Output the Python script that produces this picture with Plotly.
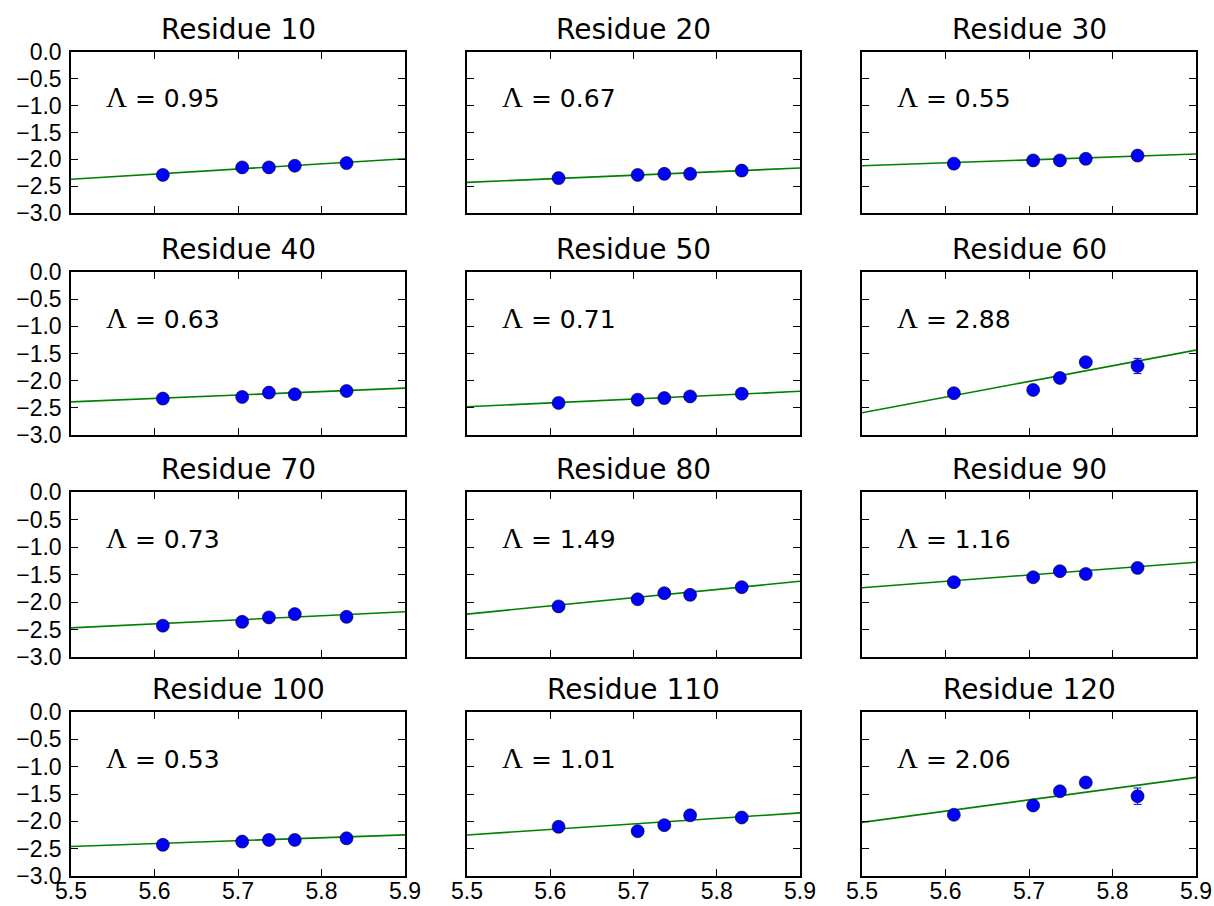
import plotly.graph_objects as go

# ---------------- data ----------------
residues = [10, 20, 30, 40, 50, 60, 70, 80, 90, 100, 110, 120]
x_vals = [5.61, 5.705, 5.737, 5.768, 5.83]
lambdas = [0.95, 0.67, 0.55, 0.63, 0.71, 2.88, 0.73, 1.49, 1.16, 0.53, 1.01, 2.06]
fit_at_x0 = [-2.37, -2.43, -2.12, -2.39, -2.48, -2.59, -2.47, -2.22, -1.74, -2.46, -2.25, -2.02]

y_res10 = [-2.29, -2.15, -2.15, -2.12, -2.07]
y_res20 = [-2.35, -2.29, -2.27, -2.27, -2.21]
y_res30 = [-2.08, -2.02, -2.02, -1.99, -1.93]
y_res40 = [-2.33, -2.30, -2.22, -2.25, -2.19]
y_res50 = [-2.41, -2.35, -2.32, -2.29, -2.24]
y_res60 = [-2.23, -2.17, -1.95, -1.66, -1.73]
y_res70 = [-2.43, -2.36, -2.28, -2.22, -2.27]
y_res80 = [-2.08, -1.95, -1.84, -1.87, -1.73]
y_res90 = [-1.64, -1.55, -1.44, -1.49, -1.38]
y_res100 = [-2.43, -2.37, -2.34, -2.34, -2.31]
y_res110 = [-2.10, -2.18, -2.07, -1.89, -1.93]
y_res120 = [-1.88, -1.71, -1.45, -1.29, -1.54]

err_small = [0.02, 0.02, 0.02, 0.02, 0.02]
err_res60 = [0.03, 0.03, 0.03, 0.03, 0.14]
err_res120 = [0.06, 0.03, 0.03, 0.03, 0.15]

x_range = [5.5, 5.9]
y_range = [-3.0, 0.0]
x_ticks = [5.5, 5.6, 5.7, 5.8, 5.9]
y_ticks = [0.0, -0.5, -1.0, -1.5, -2.0, -2.5, -3.0]

y_all = [y_res10, y_res20, y_res30, y_res40, y_res50, y_res60,
         y_res70, y_res80, y_res90, y_res100, y_res110, y_res120]
err_all = [err_small] * 5 + [err_res60] + [err_small] * 5 + [err_res120]

# ---------------- layout geometry ----------------
W, H = 1214, 906
col_px = [(71, 405), (467, 800), (862, 1196)]
row_px = [(52, 213), (272, 435), (492, 657), (712, 876)]

fig = go.Figure()
annotations = []
tick_font = dict(family="Liberation Sans, Arial, sans-serif", size=23, color="black")

for i, res in enumerate(residues):
    r, c = divmod(i, 3)
    n = i + 1
    xa = "x" if n == 1 else f"x{n}"
    ya = "y" if n == 1 else f"y{n}"
    lam = lambdas[i]
    # fit line
    fx = x_range
    fy = [fit_at_x0[i] + lam * (xv - x_range[0]) for xv in fx]
    fig.add_trace(go.Scatter(x=fx, y=fy, mode="lines",
                             line=dict(color="#008000", width=1.6),
                             xaxis=xa, yaxis=ya, showlegend=False, hoverinfo="skip"))
    fig.add_trace(go.Scatter(x=x_vals, y=y_all[i], mode="markers",
                             marker=dict(color="#0000ff", size=13,
                                         line=dict(color="black", width=0.6)),
                             error_y=dict(type="data", array=err_all[i], visible=True,
                                          color="#0000ff", thickness=1, width=4),
                             xaxis=xa, yaxis=ya, showlegend=False))
    x0, x1 = col_px[c]
    y0, y1 = row_px[r]
    xdom = [x0 / W, x1 / W]
    ydom = [1 - y1 / H, 1 - y0 / H]
    xkey = "xaxis" if n == 1 else f"xaxis{n}"
    ykey = "yaxis" if n == 1 else f"yaxis{n}"
    fig.update_layout(**{
        xkey: dict(domain=xdom, range=x_range, anchor=ya, tickvals=x_ticks,
                   ticktext=[f"{v:.1f}" for v in x_ticks],
                   showticklabels=(r == 3), ticks="inside", ticklen=7, tickwidth=1,
                   tickcolor="black", showline=True, linecolor="black", linewidth=1.5,
                   mirror="ticks", showgrid=False, zeroline=False, automargin=False,
                   tickfont=tick_font, ticklabelstandoff=-6),
        ykey: dict(domain=ydom, range=y_range, anchor=xa, tickvals=y_ticks,
                   tickformat=".1f",
                   showticklabels=(c == 0), ticks="inside", ticklen=7, tickwidth=1,
                   tickcolor="black", showline=True, linecolor="black", linewidth=1.5,
                   mirror="ticks", showgrid=False, zeroline=False, automargin=False,
                   tickfont=tick_font, ticklabelstandoff=3),
    })
    dx = xa + " domain"
    dy = ya + " domain"
    annotations.append(dict(text=f"Residue {res}", xref=dx, yref=dy, x=0.5, y=1,
                            xanchor="center", yanchor="bottom", yshift=4, showarrow=False,
                            font=dict(family="DejaVu Sans, sans-serif", size=28, color="black")))
    annotations.append(dict(text=f"<span style='font-family:Liberation Serif;font-size:29px'>Λ</span> = {lam:.2f}",
                            xref=dx, yref=dy, x=0.1, y=0.72,
                            xanchor="left", yanchor="middle", showarrow=False,
                            font=dict(family="DejaVu Sans, sans-serif", size=25, color="black")))

fig.update_layout(width=W, height=H,
                  margin=dict(l=0, r=0, t=0, b=0, pad=0, autoexpand=False),
                  paper_bgcolor="white", plot_bgcolor="white",
                  annotations=annotations, showlegend=False)

fig.write_html("out.html", config={"displayModeBar": False},
               post_script="document.body.style.margin='0';document.body.style.overflow='hidden';")
